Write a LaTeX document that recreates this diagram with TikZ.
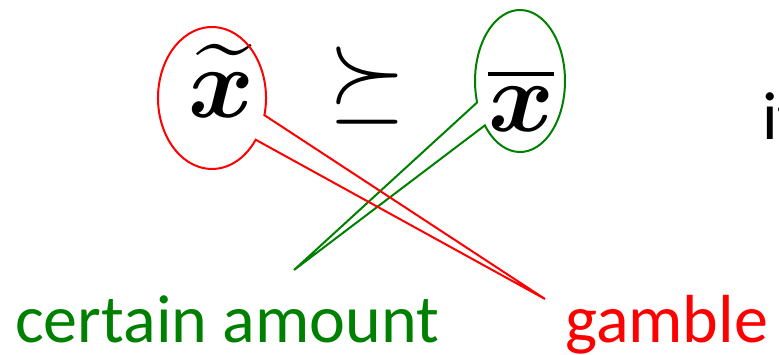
\RequirePackage{fix-cm}
\documentclass[tikz,border=0pt]{standalone}
\usepackage{amsmath,amssymb,bm}
\usepackage{fontspec}
\setmainfont{Carlito}
\usetikzlibrary{positioning}
\definecolor{callred}{RGB}{255,0,0}
\definecolor{callgreen}{RGB}{0,128,0}
\tikzset{
  lbl/.style={inner sep=0pt, anchor=base west, font=\fontsize{68}{80}\selectfont},
  bigmath/.style={inner sep=0pt, anchor=base, font=\fontsize{100}{100}\selectfont},
  callout/.style={line width=2pt, line join=miter},
}
\begin{document}
\begin{tikzpicture}[x=1pt,y=1pt]
    \useasboundingbox (0,0) rectangle (779,355);
    \clip (0,0) rectangle (779,355);

    % 式
    \node[bigmath] (gx) at (221,237) {$\boldsymbol{\widetilde{x}}$};
    \node[bigmath] (rel) at (367,244) {$\succeq$};
    \node[bigmath] (cx) at (521,223) {$\boldsymbol{\overline{x}}$};
    \node[lbl] (it) at (762,215) {it};

    % ラベル
    \node[lbl, text=callgreen] (certain) at (15,12) {certain amount};
    \node[lbl, text=callred] (gamble) at (565,12) {gamble};

    % 吹き出し
    \coordinate (gc) at (212,257);
    \coordinate (cc) at (520,274);
    \coordinate (ctip) at (294,85);
    \coordinate (gtip) at (545,56);
    \draw[callout, callgreen] (cc) ++(218.7:45pt and 71pt)
        arc[start angle=218.7, end angle=557.6, x radius=45pt, y radius=71pt]
        -- (ctip) -- cycle;
    \draw[callout, callred] (gc) ++(-14:54pt and 71pt)
        arc[start angle=-14, end angle=324, x radius=54pt, y radius=71pt]
        -- (gtip) -- cycle;
\end{tikzpicture}
\end{document}
